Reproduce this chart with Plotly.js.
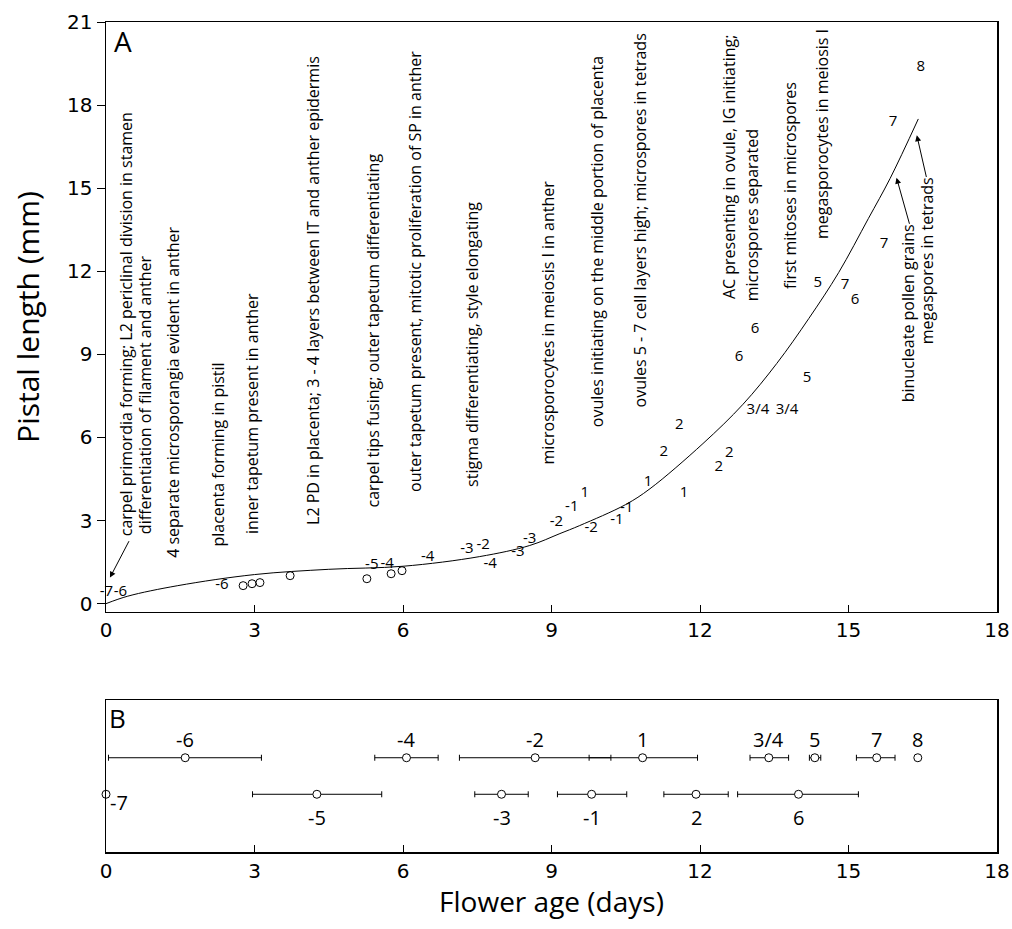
<!DOCTYPE html>
<html>
<head>
<meta charset="utf-8">
<script src="https://cdn.plot.ly/plotly-3.0.1.min.js"></script>
<style>html,body{margin:0;padding:0;background:#fff;}#chart{width:1012px;height:929px;}</style>
</head>
<body>
<div id="chart"></div>
<script>
// ---- Panel A: growth curve
const curveX = [0, 0.44, 1.45, 3.0, 4.5, 6.0, 7.55, 8.56, 9.17, 9.57, 10.5, 10.99, 12.06, 12.87, 13.55, 14.2, 14.8, 15.4, 15.84, 16.41];
const curveY = [0, 0.27, 0.65, 1.05, 1.24, 1.35, 1.7, 2.1, 2.53, 2.82, 3.58, 4.15, 5.78, 7.2, 8.67, 10.3, 11.95, 13.9, 15.35, 17.5];

// open circles
const circleX = [2.77, 2.95, 3.11, 3.72, 5.27, 5.76, 5.98];
const circleY = [0.65, 0.72, 0.76, 1.01, 0.9, 1.08, 1.19];

// stage number labels
const numLabels = ['-7','-6','-6','-5','-4','-4','-3','-2','-4','-3','-3','-2','-1','1','-2','-1','-1','1','2','2','1','2','2','3/4','3/4','6','6','5','5','7','6','7','7','8'];
const numX = [0.01,0.29,2.34,5.37,5.68,6.5,7.29,7.62,7.76,8.32,8.56,9.1,9.41,9.67,9.8,10.32,10.52,10.95,11.27,11.58,11.68,12.38,12.59,13.17,13.76,12.79,13.11,14.16,14.38,14.93,15.13,15.72,15.9,16.46];
const numY = [0.4,0.4,0.65,1.37,1.44,1.66,1.98,2.1,1.44,1.85,2.31,2.93,3.47,3.98,2.71,3.0,3.43,4.37,5.46,6.43,3.98,4.92,5.42,6.97,6.97,8.89,9.9,8.13,11.56,11.49,10.95,12.97,17.38,19.37];

// developmental event texts (vertical)
const eventText = [
  'carpel primordia forming; L2 periclinal division in stamen',
  'differentiation of filament and anther',
  '4 separate microsporangia evident in anther',
  'placenta forming in pistil',
  'inner tapetum present in anther',
  'L2 PD in placenta; 3 - 4 layers between IT and anther epidermis',
  'carpel tips fusing; outer tapetum differentiating',
  'outer tapetum present, mitotic proliferation of SP in anther',
  'stigma differentiating, style elongating',
  'microsporocytes in meiosis I in anther',
  'ovules initiating on the middle portion of placenta',
  'ovules 5 - 7 cell layers high; microspores in tetrads',
  'AC presenting in ovule, IG initiating;',
  'microspores separated',
  'first mitoses in microspores',
  'megasporocytes in meiosis I',
  'binucleate pollen grains',
  'megaspores in tetrads'
];
const eventX = [0.42,0.79,1.35,2.26,2.95,4.18,5.39,6.24,7.39,8.93,9.92,10.79,12.6,13.05,13.82,14.46,16.2,16.59];
const eventY = [2.39,2.46,1.63,2.02,2.46,2.82,3.43,4.01,4.19,4.99,6.32,7.05,10.95,10.88,11.31,13.12,7.23,9.32];

// arrows: head and tail
const arrowHeadX = [0.08, 15.97, 16.38];
const arrowHeadY = [0.94, 15.38, 16.91];
const arrowTailX = [0.48, 16.24, 16.58];
const arrowTailY = [2.31, 13.66, 15.35];

// ---- Panel B: mean age and range per stage
const bTopLabels = ['-6','-4','-2','1','3/4','5','7','8'];
const bTopX  = [1.6, 6.07, 8.67, 10.84, 13.39, 14.32, 15.57, 16.4];
const bTopLo = [0.05, 5.43, 7.14, 9.76, 13.01, 14.21, 15.16, null];
const bTopHi = [3.14, 6.71, 10.2, 11.95, 13.79, 14.44, 15.94, null];
const bBotLabels = ['-7','-5','-3','-1','2','6'];
const bBotX  = [0, 4.26, 7.99, 9.81, 11.92, 13.99];
const bBotLo = [null, 2.96, 7.45, 9.12, 11.27, 12.76];
const bBotHi = [null, 5.57, 8.53, 10.52, 12.57, 15.2];

const TXT = 'Open Sans, Lato, sans-serif';
const TICK = 'DejaVu Sans, Verdana, sans-serif';

const traces = [];
traces.push({x: curveX, y: curveY, mode: 'lines', line: {color: '#000', width: 1, shape: 'spline', smoothing: 1}, xaxis: 'x', yaxis: 'y', hoverinfo: 'skip'});
traces.push({x: circleX, y: circleY, mode: 'markers', marker: {symbol: 'circle-open', size: 8, color: '#000', line: {width: 1}}, xaxis: 'x', yaxis: 'y'});
traces.push({x: numX, y: numY, text: numLabels, mode: 'text', textfont: {family: TXT, size: 15, color: '#000'}, cliponaxis: false, xaxis: 'x', yaxis: 'y'});

function rowTraces(xs, lo, hi, level) {
  const bx = [], plus = [], minus = [], nx = [];
  xs.forEach((v, i) => {
    if (lo[i] !== null) { bx.push(v); plus.push(hi[i] - v); minus.push(v - lo[i]); }
    else nx.push(v);
  });
  const mk = {symbol: 'circle', size: 8, color: '#fff', line: {color: '#000', width: 1}};
  traces.push({x: bx, y: bx.map(() => level), mode: 'markers', marker: mk,
    error_x: {type: 'data', symmetric: false, array: plus, arrayminus: minus, color: '#000', thickness: 1, width: 3},
    xaxis: 'x2', yaxis: 'y2', cliponaxis: false});
  if (nx.length) traces.push({x: nx, y: nx.map(() => level), mode: 'markers', marker: mk, xaxis: 'x2', yaxis: 'y2', cliponaxis: false});
}
rowTraces(bTopX, bTopLo, bTopHi, 1);
rowTraces(bBotX, bBotLo, bBotHi, 0);

const annotations = [];
eventText.forEach((t, i) => annotations.push({
  x: eventX[i], y: eventY[i], xref: 'x', yref: 'y', text: t, textangle: -90,
  showarrow: false, xanchor: 'center', yanchor: 'bottom', borderpad: 0,
  font: {family: TXT, size: 16, color: '#000'}
}));
arrowHeadX.forEach((hx, i) => annotations.push({
  x: hx, y: arrowHeadY[i], ax: arrowTailX[i], ay: arrowTailY[i], axref: 'x', ayref: 'y',
  xref: 'x', yref: 'y', text: '', showarrow: true, arrowhead: 2, arrowsize: 1.2, arrowwidth: 1, arrowcolor: '#000'
}));
bTopLabels.forEach((t, i) => annotations.push({
  x: bTopX[i], y: 1, xref: 'x2', yref: 'y2', text: t, showarrow: false, yshift: 18,
  font: {family: TXT, size: 20, color: '#000'}
}));
bBotLabels.forEach((t, i) => {
  const first = bBotLo[i] === null;
  annotations.push({
    x: bBotX[i], y: 0, xref: 'x2', yref: 'y2', text: t, showarrow: false,
    xanchor: first ? 'left' : 'center', xshift: first ? 2 : 0, yshift: first ? -8 : -23,
    font: {family: TXT, size: 20, color: '#000'}
  });
});
annotations.push({x: 0.12, y: 20.3, xref: 'x', yref: 'y', text: 'A', showarrow: false, xanchor: 'left', yanchor: 'middle', font: {family: TXT, size: 28, color: '#000'}});
annotations.push({x: 0.03, y: 2.09, xref: 'x2', yref: 'y2', text: 'B', showarrow: false, xanchor: 'left', yanchor: 'middle', font: {family: TXT, size: 26, color: '#000'}});

const ticks = [0, 3, 6, 9, 12, 15, 18];
const layout = {
  width: 1012, height: 929,
  margin: {l: 106, r: 15, t: 22, b: 77},
  paper_bgcolor: '#fff', plot_bgcolor: '#fff',
  showlegend: false,
  xaxis: {domain: [0, 1], anchor: 'y', range: [0, 18], tickvals: ticks, ticks: 'inside', ticklen: 7, tickcolor: '#000',
    showline: true, mirror: true, linecolor: '#000', linewidth: 1.5, showgrid: false, zeroline: false,
    tickfont: {family: TICK, size: 20, color: '#000'}},
  yaxis: {domain: [0.2892, 1], anchor: 'x', range: [-0.3, 21], tickvals: [0, 3, 6, 9, 12, 15, 18, 21], ticks: 'outside', ticklen: 8, tickcolor: '#000',
    showline: true, mirror: true, linecolor: '#000', linewidth: 1.5, showgrid: false, zeroline: false,
    tickfont: {family: TICK, size: 20, color: '#000'},
    title: {text: 'Pistal length (mm)', font: {family: TXT, size: 30, color: '#000'}, standoff: 18}},
  xaxis2: {domain: [0, 1], anchor: 'y2', range: [0, 18], tickvals: ticks, ticks: 'inside', ticklen: 7, tickcolor: '#000',
    showline: true, mirror: true, linecolor: '#000', linewidth: 1.5, showgrid: false, zeroline: false,
    tickfont: {family: TICK, size: 20, color: '#000'},
    title: {text: 'Flower age (days)', font: {family: TXT, size: 28, color: '#000'}, standoff: 10}},
  yaxis2: {domain: [0, 0.1831], anchor: 'x2', range: [-1.58, 2.58], showticklabels: false, ticks: '',
    showline: true, mirror: true, linecolor: '#000', linewidth: 1.5, showgrid: false, zeroline: false},
  annotations: annotations
};
Plotly.newPlot('chart', traces, layout, {displayModeBar: false, staticPlot: true});
</script>
</body>
</html>
